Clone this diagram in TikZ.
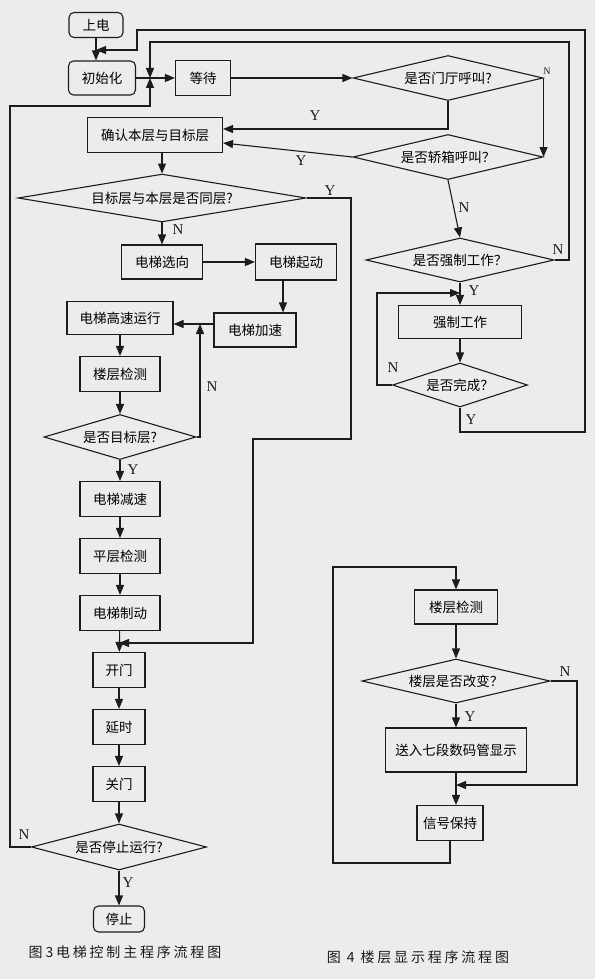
\documentclass[tikz,border=0pt]{standalone}
\usepackage{fontspec}
\setmainfont{Liberation Serif}
\newfontfamily\cjk{Noto Sans CJK SC}
\usetikzlibrary{arrows.meta,positioning,shapes.geometric,calc}
\definecolor{ink}{HTML}{1C1C1C}
\definecolor{paper}{HTML}{ECECEA}
\tikzset{
  stepbox/.style={
    rectangle, draw=ink, line width=1.1pt,
    minimum width=#1, minimum height=35pt,
    font=\cjk\fontsize{13.5}{15}\selectfont, align=center,
    inner sep=2pt
  },
  stepbox/.default=80pt,
  endbox/.style={stepbox=#1, rounded corners=5pt},
  endbox/.default=54pt,
  testbox/.style={
    diamond, draw=ink, line width=1.1pt, aspect=4,
    minimum width=#1, minimum height=45pt,
    font=\cjk\fontsize{13.5}{15}\selectfont, inner sep=0pt
  },
  testbox/.default=188pt,
  flowarrow/.style={
    -{Triangle[length=10pt,width=8pt]}, line width=1.1pt, color=ink
  },
  labelnode/.style={
    font=\fontsize{15}{16}\selectfont, text=ink, inner sep=1pt
  },
  captionnode/.style={
    font=\cjk\fontsize{14}{16}\selectfont\addfontfeature{LetterSpace=20},
    text=ink, inner sep=1pt
  },
}

\begin{document}
\begin{tikzpicture}[x=1pt,y=-1pt]
  \fill[paper] (0,0) rectangle (595,979);
  \useasboundingbox (0,0) rectangle (595,979);

  % main program
  \node[endbox=54pt, minimum height=25pt] at (96,25) (pwr) {上电};
  \node[endbox=67pt, minimum height=34pt] at (102,78) (init) {初始化};
  \node[stepbox=55pt] at (203,78) (wait) {等待};
  \node[testbox=190pt] at (448,78) (hall) {是否门厅呼叫?};
  \node[testbox=190pt] at (448,157) (car) {是否轿箱呼叫？};
  \node[testbox=188pt, minimum height=44pt] at (460,260) (force) {是否强制工作？};
  \node[stepbox=123pt, minimum height=33pt] at (460,322) (forcework) {强制工作};
  \node[testbox=135pt, minimum height=44pt] at (460,385) (done) {是否完成？};
  \node[stepbox=135pt] at (155,135) (confirm) {确认本层与目标层};
  \node[testbox=288pt] at (162,198) (same) {目标层与本层是否同层?};
  \node[stepbox=81pt, minimum height=34pt] at (162,262) (dir) {电梯选向};
  \node[stepbox=81pt, minimum height=36pt] at (296,262) (start) {电梯起动};
  \node[stepbox=82pt, minimum height=34pt] at (255,330) (acc) {电梯加速};
  \node[stepbox=106pt, minimum height=33pt] at (120,318) (run) {电梯高速运行};
  \node[stepbox] at (120,374) (floor) {楼层检测};
  \node[testbox=152pt] at (120,437) (target) {是否目标层?};
  \node[stepbox] at (120,499) (dec) {电梯减速};
  \node[stepbox] at (120,556) (level) {平层检测};
  \node[stepbox] at (120,613) (brake) {电梯制动};
  \node[stepbox=52pt] at (119,670) (open) {开门};
  \node[stepbox=52pt] at (119,727) (delay) {延时};
  \node[stepbox=52pt] at (119,784) (close) {关门};
  \node[testbox=175pt, minimum height=46pt] at (119,847) (stop) {是否停止运行?};
  \node[endbox=51pt, minimum height=26pt] at (119,919) (halt) {停止};

  \coordinate (initjoin) at (96,50);
  \coordinate (waitjoin) at (150,78);
  \coordinate (outerbr) at (585,432);
  \coordinate (outertr) at (585,30);
  \coordinate (outertl) at (137,30);
  \coordinate (innertr) at (569,42);
  \coordinate (leftrail) at (10,106);
  \coordinate (doneloop) at (377,293);
  \coordinate (forcejoin) at (460,293);
  \coordinate (runjoin) at (200,324);
  \coordinate (samert) at (351,439);
  \coordinate (samedn) at (253,643);
  \coordinate (openjoin) at (119,643);

  \draw[flowarrow] (pwr.south) -- (pwr.south |- init.north);
  \draw[flowarrow] (init) -- (wait);
  \draw[flowarrow] (wait) -- (hall);
  \draw[flowarrow] (hall.east) -- (car.east);
  \draw[flowarrow] (hall.south) |- ([yshift=6pt]confirm.east);
  \draw[flowarrow] (car.west) -- ([yshift=-8pt]confirm.east);
  \draw[flowarrow] (car.south) -- (force.north);
  \draw[flowarrow] (force.south) -- (forcework.north);
  \draw[flowarrow] (forcework) -- (done);
  \draw[flowarrow] (done.west) -| (doneloop) -- (forcejoin);
  \draw[flowarrow] (done.south) |- (outerbr) -- (outertr) -- (outertl) |- (initjoin);
  \draw[flowarrow] (force.east) -| (innertr) -| (waitjoin);
  \draw[flowarrow] (stop.west) -| (leftrail) -| (waitjoin);

  \draw[flowarrow] (confirm.south -| same) -- (same);
  \draw[flowarrow] (same.south) -- (dir.north);
  \draw[flowarrow] (dir) -- (start);
  \draw[flowarrow] ([xshift=-13pt]start.south) -- ([xshift=-13pt]start.south |- acc.north);
  \draw[flowarrow] ([yshift=6pt]acc.west) -- ([yshift=6pt]acc.west -| run.east);
  \draw[flowarrow] (run) -- (floor);
  \draw[flowarrow] (floor) -- (target);
  \draw[flowarrow] (target.east) -| (runjoin);
  \draw[flowarrow] (target) -- (dec);
  \draw[flowarrow] (dec) -- (level);
  \draw[flowarrow] (level) -- (brake);
  \draw[flowarrow] (brake) -- (open);
  \draw[flowarrow] (same.east) -| (samert) -| (samedn) -- (openjoin);
  \draw[flowarrow] (open) -- (delay);
  \draw[flowarrow] (delay) -- (close);
  \draw[flowarrow] (close) -- (stop);
  \draw[flowarrow] (stop) -- (halt);

  \node[labelnode, font=\fontsize{10}{11}\selectfont] at (547,71) (nhall) {N};
  \node[labelnode] at (315,116) (yhall) {Y};
  \node[labelnode] at (301,161) (ycar) {Y};
  \node[labelnode] at (464,208) (ncar) {N};
  \node[labelnode] at (558,250) (nforce) {N};
  \node[labelnode] at (474,291) (yforce) {Y};
  \node[labelnode] at (393,368) (ndone) {N};
  \node[labelnode] at (471,420) (ydone) {Y};
  \node[labelnode] at (330,191) (ysame) {Y};
  \node[labelnode] at (178,230) (nsame) {N};
  \node[labelnode] at (212,387) (ntarget) {N};
  \node[labelnode] at (133,470) (ytarget) {Y};
  \node[labelnode] at (24,835) (nstop) {N};
  \node[labelnode] at (128,883) (ystop) {Y};

  % floor display
  \node[stepbox=83pt, minimum height=34pt] at (456,607) (fl2) {楼层检测};
  \node[testbox=188pt, minimum height=44pt] at (456,681) (chg) {楼层是否改变？};
  \node[stepbox=141pt, minimum height=44pt] at (456,750) (seg) {送入七段数码管显示};
  \node[stepbox=66pt] at (450,823) (hold) {信号保持};

  \coordinate (chgrt) at (577,785);
  \coordinate (segjoin) at (456,785);
  \coordinate (holdbl) at (333,863);
  \coordinate (holdtl) at (333,567);

  \draw[flowarrow] (fl2) -- (chg);
  \draw[flowarrow] (chg) -- (seg);
  \draw[flowarrow] (chg.east) -| (chgrt) -- (segjoin);
  \draw[flowarrow] (seg.south) -- (seg.south |- hold.north);
  \draw[flowarrow] (hold.south) |- (holdbl) -- (holdtl) -| (fl2.north);

  \node[labelnode] at (565,672) (nchg) {N};
  \node[labelnode] at (470,717) (ychg) {Y};

  \node[captionnode] at (125,952) (cap3) {图3电梯控制主程序流程图};
  \node[captionnode] at (418,957) (cap4) {图 4 楼层显示程序流程图};
\end{tikzpicture}
\end{document}
